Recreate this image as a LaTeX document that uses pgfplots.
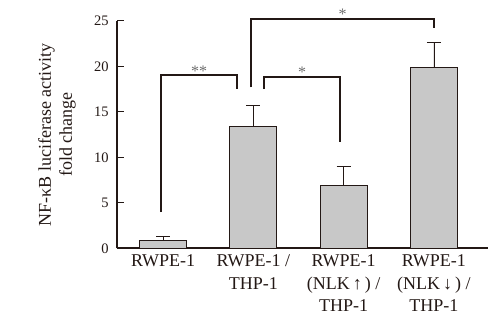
\documentclass[border=0pt]{standalone}
\usepackage{pgfplots}
\pgfplotsset{compat=1.18}
\usepackage{fontspec}
\setmainfont{Liberation Serif}
\definecolor{barfill}{HTML}{C8C8C8}
\definecolor{edge}{HTML}{231815}
\definecolor{stargray}{HTML}{6E6E6E}
\begin{document}
\begin{tikzpicture}
\begin{axis}[
  scale only axis,
  width=371pt, height=227.6pt,
  xmin=-0.509, xmax=3.599,
  ymin=0, ymax=25,
  axis x line*=bottom, axis y line*=left,
  axis line style={line width=2pt, color=edge},
  clip=false,
  ybar, bar width=47pt,
  xtick={0,1,2,3},
  xticklabels={RWPE-1, RWPE-1 /\\THP-1, RWPE-1\\(NLK\,↑\,) /\\THP-1, RWPE-1\\(NLK\,↓\,) /\\THP-1},
  ytick={0,5,10,15,20,25},
  tick align=inside,
  major tick length=7pt,
  tick style={color=edge, line width=1pt},
  xtick style={/pgfplots/major tick length=4pt},
  /pgf/number format/assume math mode=true,
  yticklabel style={font=\fontsize{14.5}{16}\selectfont, text=edge, xshift=-5pt},
  xticklabel style={align=center, font=\fontsize{18}{22.5}\selectfont, text=edge, yshift=-3pt},
]
\addplot[fill=barfill, draw=edge, line width=0.8pt,
  error bars/.cd, y dir=plus, y explicit,
  error bar style={line width=0.8pt, color=edge},
  error mark options={rotate=90, mark size=7pt, line width=0.8pt, color=edge}]
  coordinates {(0,0.9) +- (0,0.4) (1,13.4) +- (0,2.35) (2,6.9) +- (0,2.1) (3,19.9) +- (0,2.7)};
% significance brackets
\addplot[sharp plot, line width=2pt, color=edge, no marks, forget plot] coordinates {(-0.025,4.0) (-0.025,19.0) (0.816,19.0) (0.816,17.5)};
\addplot[sharp plot, line width=2pt, color=edge, no marks, forget plot] coordinates {(1.115,17.5) (1.115,18.85) (1.96,18.85) (1.96,11.65)};
\addplot[sharp plot, line width=2pt, color=edge, no marks, forget plot] coordinates {(0.975,17.7) (0.975,25.2) (3.0,25.2) (3.0,24.2)};
\node[text=stargray, font=\fontsize{16}{16}\selectfont] at (axis cs:0.40,19.5) {**};
\node[text=stargray, font=\fontsize{16}{16}\selectfont] at (axis cs:1.54,19.35) {*};
\node[text=stargray, font=\fontsize{16}{16}\selectfont] at (axis cs:1.99,25.7) {*};
\node[rotate=90, align=center, text=edge, font=\fontsize{18}{21}\selectfont] at (axis cs:-1.174,12.5) {NF-κB luciferase activity\\fold change};
\path (axis cs:-1.805,-8.65) rectangle (axis cs:3.776,27.29);
\end{axis}
\end{tikzpicture}
\end{document}
